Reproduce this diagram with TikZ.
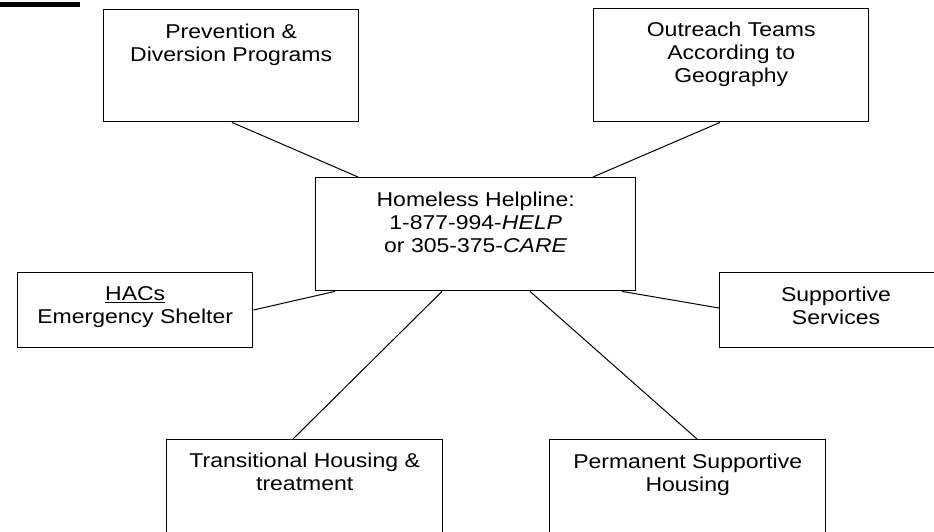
\documentclass[tikz,border=0pt]{standalone}
\usepackage{fontspec}
\setmainfont{Liberation Sans}[FakeStretch=1.15]
\usetikzlibrary{calc}
\tikzset{
  box/.style={draw=black, line width=1.4pt, rectangle, inner sep=0pt, anchor=north west},
  txt/.style={inner sep=0pt, anchor=north, align=center, font=\fontsize{20}{23}\selectfont},
  link/.style={draw=black, line width=1pt},
}
\begin{document}
\begin{tikzpicture}[x=1pt,y=-1pt]
\useasboundingbox (0,0) rectangle (934,531);
\begin{scope}
\clip (0,0) rectangle (934,531);
\fill[black] (0,2) rectangle (80,7);
% boxes
\node[box, minimum width=255pt, minimum height=112pt] (prev) at (103,9) {};
\node[box, minimum width=275pt, minimum height=113pt] (outr) at (593,8) {};
\node[box, minimum width=320pt, minimum height=113pt] (cent) at (315,177) {};
\node[box, minimum width=235pt, minimum height=75pt] (hacs) at (17,272) {};
\node[box, minimum width=240pt, minimum height=75pt] (supp) at (719,272) {};
\node[box, minimum width=276pt, minimum height=130pt] (trans) at (166,439) {};
\node[box, minimum width=276pt, minimum height=130pt] (perm) at (549,439) {};
% texts
\node[txt] (prevT) at ([yshift=-15pt]prev.north) {Prevention \&\\Diversion Programs};
\node[txt] (outrT) at ([yshift=-14pt]outr.north) {Outreach Teams\\According to\\Geography};
\node[txt] (centT) at ([yshift=-15pt]cent.north) {Homeless Helpline:\\1-877-994-\textit{HELP}\\or 305-375-\textit{CARE}};
\node[txt] (hacsT) at ([yshift=-14pt]hacs.north) {\underline{HACs}\\Emergency Shelter};
\node[txt] (suppT) at ([yshift=-15pt]$(supp.north west)+(117,0)$) {Supportive\\Services};
\node[txt] (transT) at ([yshift=-14pt]trans.north) {Transitional Housing \&\\treatment};
\node[txt] (permT) at ([yshift=-15pt]perm.north) {Permanent Supportive\\Housing};
% connectors
\coordinate (p1) at ($(prev.south west)+(129,0)$);
\coordinate (p2) at ($(cent.north west)+(43,0)$);
\coordinate (o1) at ($(outr.south west)+(127,0)$);
\coordinate (o2) at ($(cent.north west)+(278,0)$);
\coordinate (h1) at ($(hacs.north east)+(0,38)$);
\coordinate (h2) at ($(cent.south west)+(20,0)$);
\coordinate (s1) at ($(cent.south west)+(307,0)$);
\coordinate (s2) at ($(supp.north west)+(0,36)$);
\coordinate (t1) at ($(cent.south west)+(127,0)$);
\coordinate (t2) at ($(trans.north west)+(127,0)$);
\coordinate (m1) at ($(cent.south west)+(215,0)$);
\coordinate (m2) at ($(perm.north west)+(148,0)$);
\draw[link] (p1) -- (p2);
\draw[link] (o1) -- (o2);
\draw[link] (h1) -- (h2);
\draw[link] (s1) -- (s2);
\draw[link] (t1) -- (t2);
\draw[link] (m1) -- (m2);
\end{scope}
\end{tikzpicture}
\end{document}
